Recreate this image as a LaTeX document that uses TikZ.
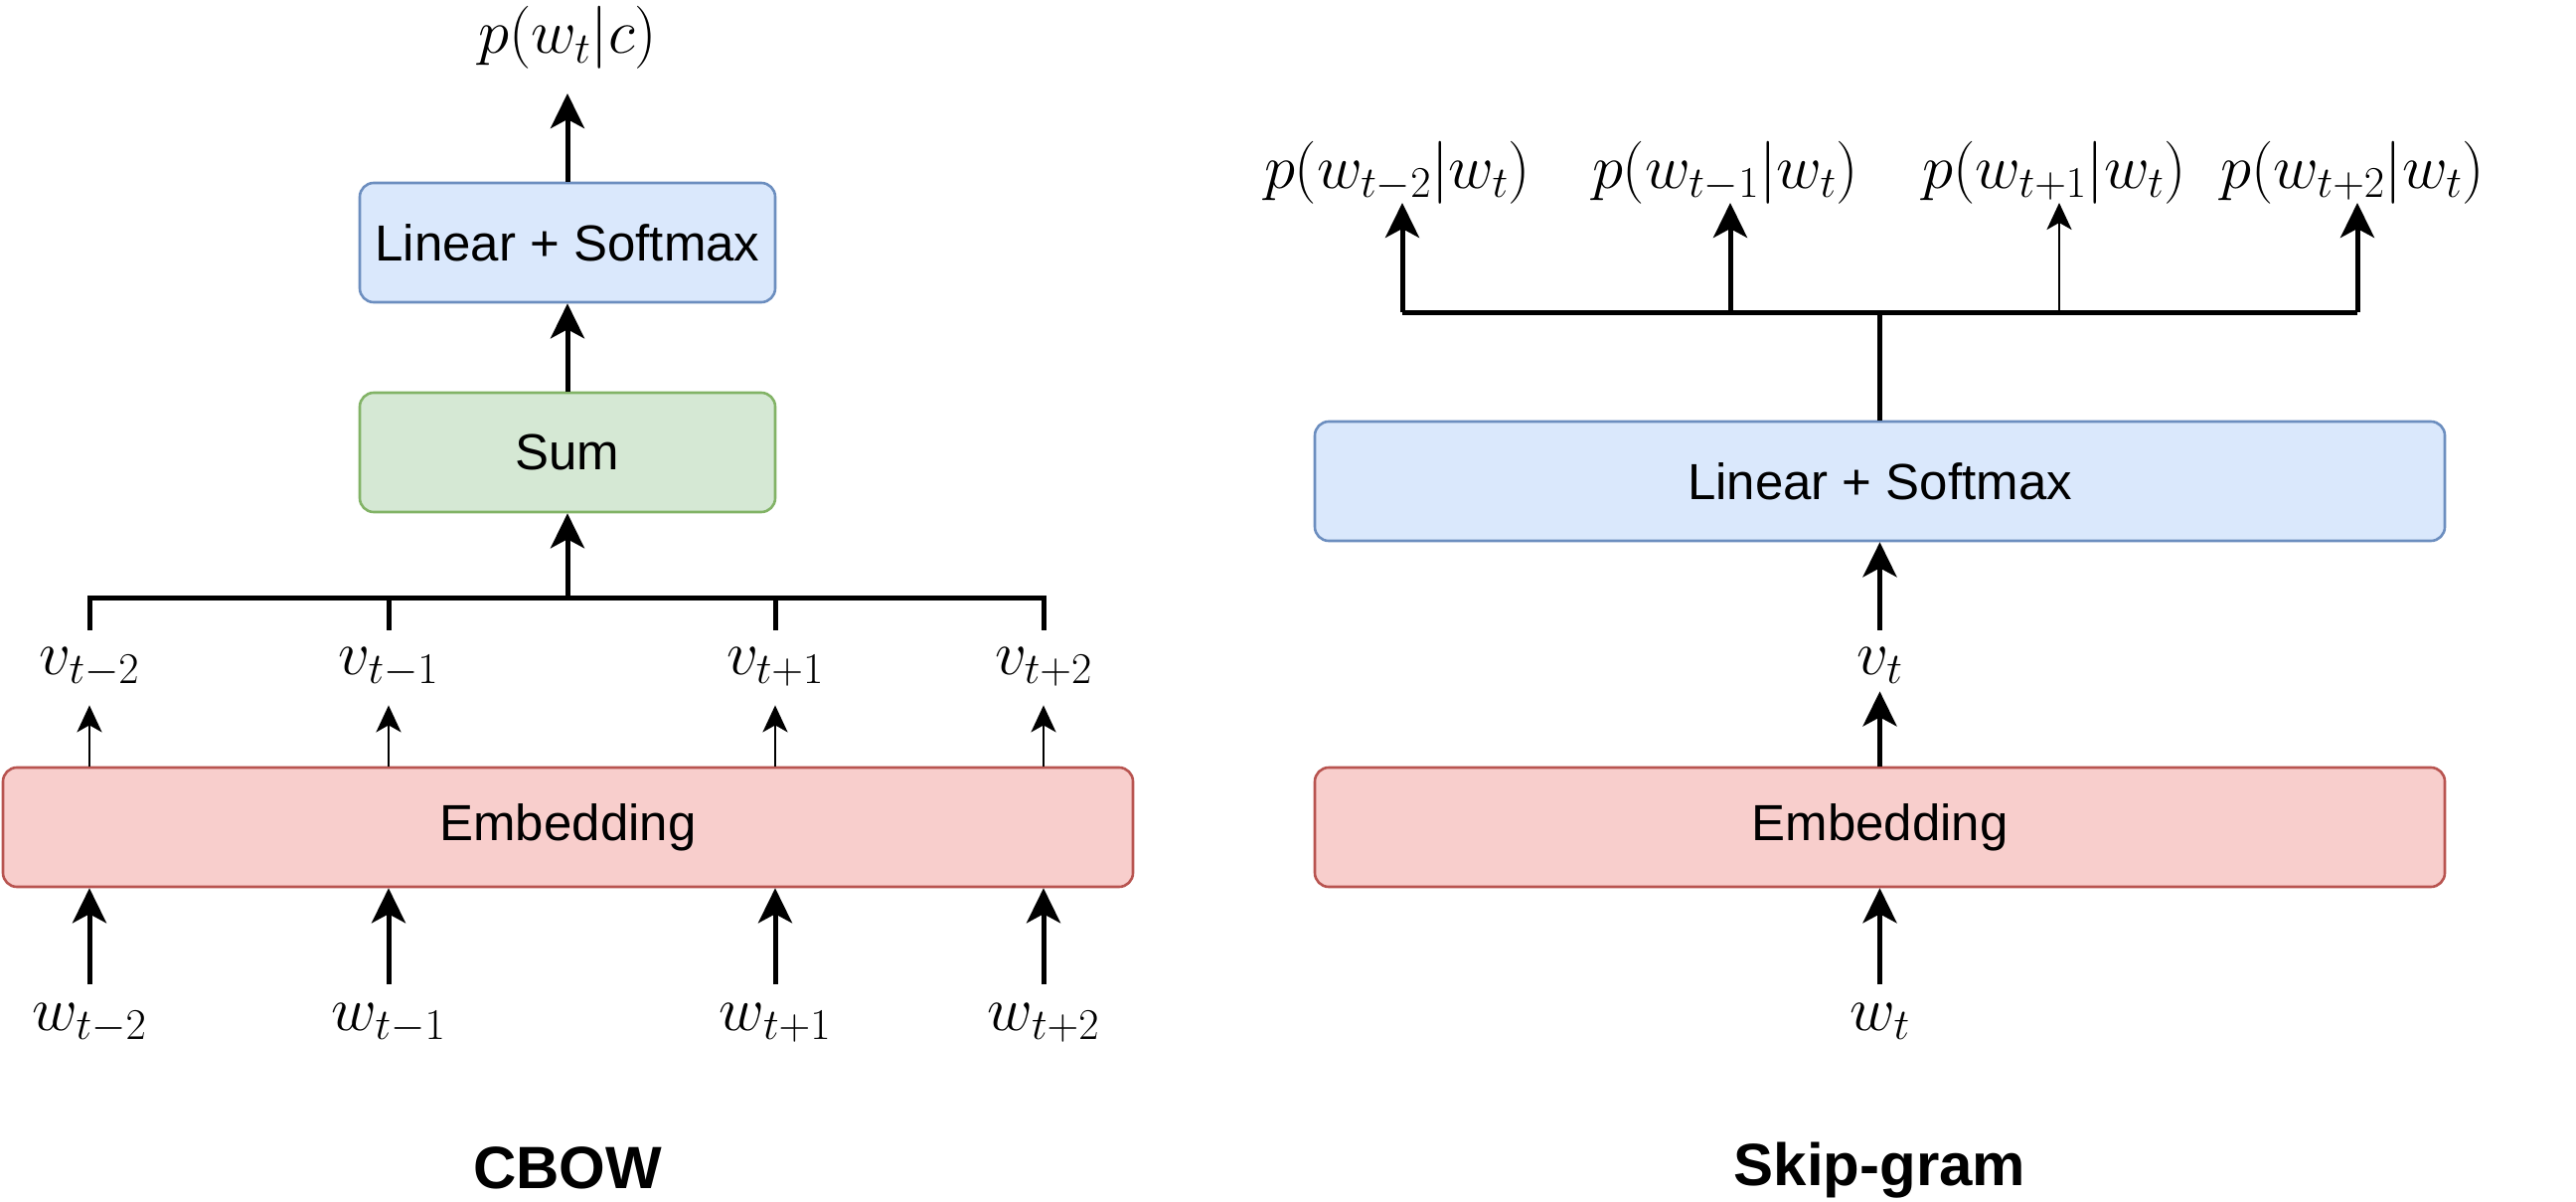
\RequirePackage{fix-cm}
\documentclass[tikz,border=0pt]{standalone}
\usepackage[no-math]{fontspec}
\newfontfamily\helv{Liberation Sans}
\usetikzlibrary{arrows.meta}
\definecolor{bfill}{HTML}{DAE8FC}
\definecolor{bdraw}{HTML}{6C8EBF}
\definecolor{gfill}{HTML}{D5E8D4}
\definecolor{gdraw}{HTML}{82B366}
\definecolor{rfill}{HTML}{F8CECC}
\definecolor{rdraw}{HTML}{B85450}
\begin{document}
\begin{tikzpicture}[x=1pt,y=-1pt,
  box/.style={draw, rounded corners=14pt, line width=2.6pt, minimum height=120pt, inner sep=0pt,
    font=\helv\fontsize{51}{61}\selectfont},
  bluebox/.style={box, fill=bfill, draw=bdraw},
  greenbox/.style={box, fill=gfill, draw=gdraw},
  redbox/.style={box, fill=rfill, draw=rdraw},
  lbl/.style={inner sep=0pt, font=\fontsize{63}{75}\selectfont},
  vlbl/.style={lbl, text height=44pt, text depth=31pt, anchor=north},
  wlbl/.style={lbl, text height=46pt, text depth=20pt, anchor=north},
  plbl/.style={lbl, text height=50pt, text depth=14.5pt, anchor=south},
  ttl/.style={inner sep=0pt, font=\helv\bfseries\fontsize{60}{72}\selectfont},
  thk/.style={line width=5pt, -{Stealth[length=35pt,width=34pt,inset=9pt]}},
  thn/.style={line width=2.5pt, -{Stealth[length=27pt,width=25pt,inset=7pt]}},
  busline/.style={line width=5pt}
]
\useasboundingbox (0,0) rectangle (2592,1209);

% ---------------- CBOW ----------------
\node[bluebox, minimum width=418pt] (lin1) at (571,244) {Linear + Softmax};
\node[greenbox, minimum width=418pt] (sum) at (571,455) {Sum};
\node[redbox, minimum width=1137pt] (emb1) at (571.5,832) {Embedding};

\node[lbl, text height=50pt, text depth=40pt, anchor=south] (out1) at (571,94) {$p(w_t|c)$};

\node[vlbl] (v1) at (90,634) {$v_{t-2}$};
\node[vlbl] (v2) at (391,634) {$v_{t-1}$};
\node[vlbl] (v3) at (780,634) {$v_{t+1}$};
\node[vlbl] (v4) at (1050,634) {$v_{t+2}$};

\node[wlbl] (w1) at (90,990) {$w_{t-2}$};
\node[wlbl] (w2) at (391,990) {$w_{t-1}$};
\node[wlbl] (w3) at (780,990) {$w_{t+1}$};
\node[wlbl] (w4) at (1050,990) {$w_{t+2}$};

\node[ttl] (t1) at (571,1175) {CBOW};

\coordinate (bus1) at (571,601);

\draw[thk] (lin1.north) -- (out1.south);
\draw[thk] (sum.north) -- (lin1.south);
\draw[thk] (bus1) -- (sum.south);
\draw[busline] (v1.north) -- (v1.north |- bus1) -- (v4.north |- bus1) -- (v4.north);
\draw[busline] (v2.north) -- (v2.north |- bus1);
\draw[busline] (v3.north) -- (v3.north |- bus1);
\foreach \i in {1,2,3,4}{
  \draw[thn] (v\i.south |- emb1.north) -- (v\i.south);
  \draw[thk] (w\i.north) -- (w\i.north |- emb1.south);
}

% ---------------- Skip-gram ----------------
\node[bluebox, minimum width=1137pt] (lin2) at (1891.5,484) {Linear + Softmax};
\node[redbox, minimum width=1137pt] (emb2) at (1891.5,832) {Embedding};

\node[lbl, text height=44pt, text depth=17pt, anchor=north] (vt) at (1891.5,634) {$v_t$};
\node[wlbl] (wt) at (1891.5,990) {$w_t$};

\node[plbl] (p1) at (1406,204) {$p(w_{t-2}|w_t)$};
\node[plbl] (p2) at (1736,204) {$p(w_{t-1}|w_t)$};
\node[plbl] (p3) at (2067,204) {$p(w_{t+1}|w_t)$};
\node[plbl] (p4) at (2367,204) {$p(w_{t+2}|w_t)$};

\node[ttl] (t2) at (1891.5,1177) {Skip-gram};

\coordinate (bus2) at (1891.5,314);
\coordinate (a1) at (1411,314);
\coordinate (a2) at (1741,314);
\coordinate (a3) at (2072,314);
\coordinate (a4) at (2372,314);

\draw[busline] (lin2.north) -- (bus2);
\draw[busline] (a1) -- (a4);
\draw[thk] (a1) -- (a1 |- p1.south);
\draw[thk] (a2) -- (a2 |- p2.south);
\draw[thn] (a3) -- (a3 |- p3.south);
\draw[thk] (a4) -- (a4 |- p4.south);

\draw[thk] (vt.north) -- (lin2.south);
\draw[thk] (emb2.north) -- (vt.south);
\draw[thk] (wt.north) -- (emb2.south);
\end{tikzpicture}
\end{document}
